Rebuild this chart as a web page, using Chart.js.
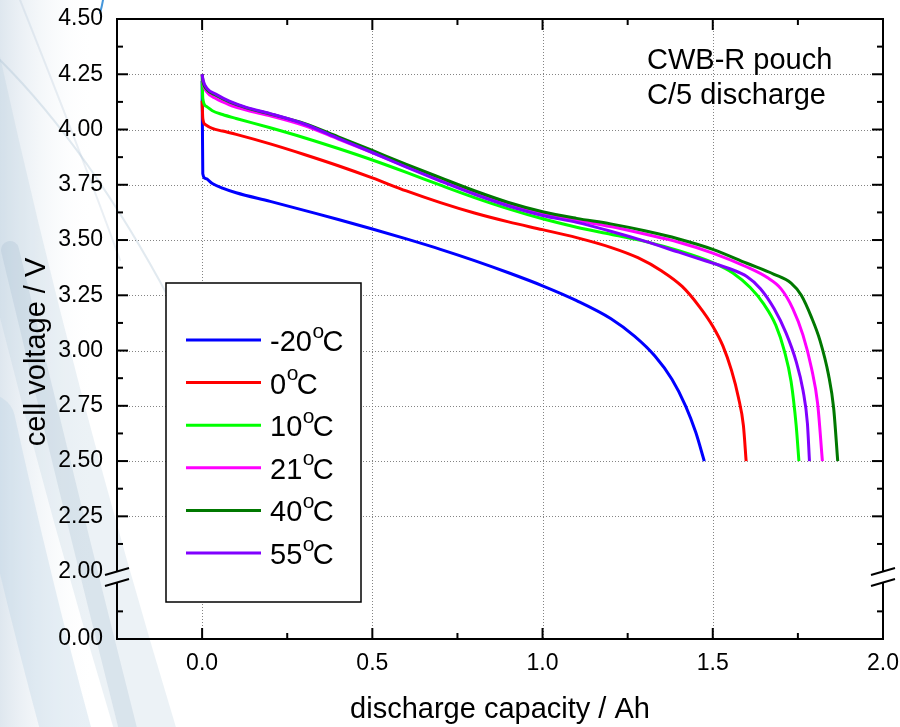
<!DOCTYPE html>
<html>
<head>
<meta charset="utf-8">
<script src="https://cdn.jsdelivr.net/npm/chart.js@4.4.1/dist/chart.umd.min.js"></script>
<style>
  html, body { margin: 0; padding: 0; background: #fff; }
  canvas { display: block; }
</style>
</head>
<body>
<canvas id="discharge" width="900" height="727"></canvas>
<script>
const FONT = '"Liberation Sans", Arial, Helvetica, sans-serif';

// Cell temperatures (legend order) and their trace colours
const temperatures = ['-20', '0', '10', '21', '40', '55'];
const traceColors = ['#0000ff', '#ff0000', '#00ff00', '#ff00ff', '#007800', '#8000ff'];

// Discharge capacity (Ah) and cell voltage (V) for each temperature
const capacityM20 = [0, 0.002, 0.01, 0.03, 0.06, 0.1, 0.2, 0.3, 0.4, 0.5, 0.6, 0.7, 0.8, 0.9, 1.0, 1.1, 1.2, 1.27, 1.33, 1.38, 1.42, 1.45, 1.475];
const voltageM20  = [4.22, 3.80, 3.778, 3.756, 3.735, 3.714, 3.675, 3.634, 3.593, 3.550, 3.505, 3.458, 3.407, 3.352, 3.293, 3.226, 3.145, 3.065, 2.975, 2.87, 2.75, 2.63, 2.50];

const capacity0 = [0, 0.002, 0.01, 0.03, 0.06, 0.1, 0.2, 0.3, 0.4, 0.5, 0.6, 0.7, 0.8, 0.9, 1.0, 1.1, 1.2, 1.28, 1.35, 1.41, 1.46, 1.5, 1.53, 1.555, 1.575, 1.59, 1.598];
const voltage0  = [4.13, 4.05, 4.022, 4.005, 3.993, 3.978, 3.935, 3.887, 3.836, 3.781, 3.722, 3.669, 3.622, 3.582, 3.547, 3.511, 3.467, 3.42, 3.36, 3.29, 3.20, 3.11, 3.02, 2.91, 2.79, 2.66, 2.50];

const capacity10 = [0, 0.002, 0.012, 0.03, 0.06, 0.1, 0.2, 0.3, 0.4, 0.5, 0.6, 0.7, 0.8, 0.9, 1.0, 1.1, 1.2, 1.3, 1.4, 1.5, 1.56, 1.61, 1.65, 1.685, 1.71, 1.73, 1.745, 1.753];
const voltage10  = [4.24, 4.14, 4.105, 4.085, 4.068, 4.05, 4.008, 3.963, 3.914, 3.862, 3.806, 3.748, 3.692, 3.641, 3.596, 3.558, 3.526, 3.494, 3.452, 3.398, 3.35, 3.285, 3.21, 3.115, 3.0, 2.86, 2.66, 2.50];

const capacity21 = [0, 0.003, 0.015, 0.04, 0.08, 0.13, 0.2, 0.3, 0.4, 0.5, 0.6, 0.7, 0.8, 0.9, 1.0, 1.1, 1.2, 1.3, 1.4, 1.5, 1.6, 1.66, 1.7, 1.735, 1.765, 1.79, 1.808, 1.822];
const voltage21  = [4.25, 4.21, 4.168, 4.14, 4.112, 4.088, 4.062, 4.018, 3.957, 3.895, 3.832, 3.77, 3.712, 3.661, 3.619, 3.589, 3.561, 3.527, 3.49, 3.441, 3.378, 3.33, 3.28, 3.19, 3.07, 2.92, 2.76, 2.50];

const capacity40 = [0, 0.003, 0.015, 0.04, 0.08, 0.13, 0.2, 0.3, 0.4, 0.5, 0.6, 0.7, 0.8, 0.9, 1.0, 1.1, 1.2, 1.3, 1.4, 1.5, 1.6, 1.68, 1.73, 1.76, 1.79, 1.815, 1.84, 1.855, 1.867];
const voltage40  = [4.25, 4.215, 4.18, 4.155, 4.125, 4.098, 4.07, 4.028, 3.967, 3.905, 3.842, 3.782, 3.723, 3.67, 3.628, 3.598, 3.573, 3.542, 3.505, 3.458, 3.395, 3.345, 3.305, 3.25, 3.15, 3.045, 2.89, 2.74, 2.50];

const capacity55 = [0, 0.003, 0.015, 0.04, 0.08, 0.13, 0.2, 0.3, 0.4, 0.5, 0.6, 0.7, 0.8, 0.9, 1.0, 1.1, 1.2, 1.3, 1.4, 1.48, 1.55, 1.6, 1.64, 1.68, 1.715, 1.745, 1.765, 1.778, 1.784];
const voltage55  = [4.25, 4.222, 4.185, 4.16, 4.128, 4.10, 4.072, 4.025, 3.96, 3.896, 3.83, 3.767, 3.707, 3.654, 3.611, 3.58, 3.54, 3.495, 3.445, 3.405, 3.37, 3.335, 3.28, 3.19, 3.08, 2.95, 2.82, 2.67, 2.50];

const seriesCapacity = [capacityM20, capacity0, capacity10, capacity21, capacity40, capacity55];
const seriesVoltage  = [voltageM20, voltage0, voltage10, voltage21, voltage40, voltage55];

// Axis ticks
const capacityTicks = [0, 0.5, 1.0, 1.5, 2.0];
const voltageTicks  = [2.00, 2.25, 2.50, 2.75, 3.00, 3.25, 3.50, 3.75, 4.00, 4.25, 4.50];
const voltageFloorTick = 0.00;   // value shown below the axis break
const BREAK_SPAN = 0.305;        // axis length (in V) given to the segment below the break

const noteLines = ['CWB-R pouch', 'C/5 discharge'];
const xTitle = 'discharge capacity / Ah';
const yTitle = 'cell voltage / V';

const datasets = temperatures.map((t, i) => ({
  label: t + '°C',
  data: seriesCapacity[i].map((c, j) => ({ x: c, y: seriesVoltage[i][j] })),
  borderColor: traceColors[i],
  backgroundColor: traceColors[i],
  borderWidth: 3,
  pointRadius: 0,
  showLine: true,
  fill: false,
  cubicInterpolationMode: 'monotone',
  order: temperatures.length - i
}));

function line(ctx, x0, y0, x1, y1) {
  ctx.beginPath();
  ctx.moveTo(x0, y0);
  ctx.lineTo(x1, y1);
  ctx.stroke();
}

// Soft slide backdrop on the left side
function drawBackdrop(ctx, w, h) {
  ctx.save();
  ctx.fillStyle = '#fff';
  ctx.fillRect(0, 0, w, h);
  const g = ctx.createLinearGradient(0, 0, 95, 0);
  g.addColorStop(0, 'rgba(205,218,230,0.65)');
  g.addColorStop(1, 'rgba(255,255,255,0)');
  ctx.fillStyle = g;
  ctx.fillRect(0, 0, 95, h);
  ctx.lineCap = 'round';
  const sweep = (x0, y0, cx, cy, x1, y1, width, color) => {
    ctx.beginPath();
    ctx.moveTo(x0, y0);
    ctx.quadraticCurveTo(cx, cy, x1, y1);
    ctx.lineWidth = width;
    ctx.strokeStyle = color;
    ctx.stroke();
  };
  sweep(-30, 60, 45, 400, 150, 745, 60, 'rgba(180,202,220,0.25)');
  sweep(10, 250, 70, 500, 132, 745, 18, 'rgba(150,178,200,0.22)');
  sweep(-10, 420, 30, 600, 70, 745, 50, 'rgba(180,205,225,0.30)');
  sweep(0, 60, 90, 150, 170, 300, 2, 'rgba(160,185,205,0.30)');
  sweep(20, 0, 80, 150, 120, 260, 2, 'rgba(170,190,210,0.25)');
  sweep(103, 0, 102, 6, 100, 13, 2, 'rgba(50,140,215,0.9)');
  ctx.restore();
}

const framePlugin = {
  id: 'frame',
  beforeDraw(chart) {
    drawBackdrop(chart.ctx, chart.width, chart.height);
  },
  beforeDatasetsDraw(chart) {
    const { ctx, chartArea: a, scales: { x, y } } = chart;
    ctx.save();
    ctx.strokeStyle = 'rgba(110,110,110,0.85)';
    ctx.lineWidth = 1;
    ctx.setLineDash([1, 2]);
    capacityTicks.filter(v => v > x.min && v < x.max).forEach(v => {
      const px = Math.round(x.getPixelForValue(v)) + 0.5;
      line(ctx, px, a.top, px, a.bottom);
    });
    voltageTicks.filter(v => v > voltageTicks[0] && v < y.max).forEach(v => {
      const py = Math.round(y.getPixelForValue(v)) + 0.5;
      line(ctx, a.left, py, a.right, py);
    });
    ctx.restore();
  },
  afterDatasetsDraw(chart) {
    const { ctx, chartArea: a, scales: { x, y } } = chart;
    ctx.save();
    ctx.setLineDash([]);
    ctx.strokeStyle = '#000';
    ctx.lineWidth = 2;
    ctx.lineCap = 'butt';

    // Frame with the axis break on both vertical sides
    const brk = y.getPixelForValue(voltageTicks[0]);
    const brkLow = brk + 11;
    line(ctx, a.left - 1, a.top, a.right + 1, a.top);
    line(ctx, a.left - 1, a.bottom, a.right + 1, a.bottom);
    [a.left, a.right].forEach(px => {
      line(ctx, px, a.top, px, brk);
      line(ctx, px, brkLow, px, a.bottom + 1);
      [brk, brkLow].forEach(py => line(ctx, px - 12, py + 3.5, px + 12, py - 3.5));
    });

    // Inward tick marks
    const MAJOR = 11, MINOR = 6;
    const yStep = voltageTicks[1] - voltageTicks[0];
    const yMajor = voltageTicks.filter(v => v > voltageTicks[0] && v < y.max);
    const yMinor = voltageTicks.slice(0, -1).map(v => v + yStep / 2).concat([y.min + yStep / 2]);
    const xMajor = capacityTicks.filter(v => v > x.min && v < x.max);
    const xMinor = capacityTicks.slice(0, -1).map((v, i) => (v + capacityTicks[i + 1]) / 2);
    const yTick = (v, len) => {
      const py = y.getPixelForValue(v);
      line(ctx, a.left, py, a.left + len, py);
      line(ctx, a.right, py, a.right - len, py);
    };
    const xTick = (v, len) => {
      const px = x.getPixelForValue(v);
      line(ctx, px, a.bottom, px, a.bottom - len);
      line(ctx, px, a.top, px, a.top + len);
    };
    yMajor.forEach(v => yTick(v, MAJOR));
    yMinor.forEach(v => yTick(v, MINOR));
    xMajor.forEach(v => xTick(v, MAJOR));
    xMinor.forEach(v => xTick(v, MINOR));

    // Legend box
    const box = { x: 166, y: 283, w: 195, h: 319 };
    ctx.fillStyle = '#fff';
    ctx.fillRect(box.x, box.y, box.w, box.h);
    ctx.lineWidth = 1.5;
    ctx.strokeRect(box.x, box.y, box.w, box.h);
    const rowTop = 340, rowStep = 42.6;
    chart.data.datasets.forEach((ds, i) => {
      const ry = rowTop + i * rowStep;
      ctx.strokeStyle = ds.borderColor;
      ctx.lineWidth = 3;
      line(ctx, 186, ry, 261, ry);
      const [num, unit] = ds.label.split('°');
      const base = ry + 11;
      ctx.fillStyle = '#000';
      ctx.textAlign = 'left';
      ctx.textBaseline = 'alphabetic';
      ctx.font = '29px ' + FONT;
      ctx.fillText(num, 270, base);
      const w = ctx.measureText(num).width;
      ctx.font = '21px ' + FONT;
      ctx.fillText('o', 270 + w + 0.5, base - 13.5);
      ctx.font = '29px ' + FONT;
      ctx.fillText(unit, 270 + w + 10.5, base);
    });

    // Note in the upper right
    ctx.fillStyle = '#000';
    ctx.font = '29px ' + FONT;
    ctx.textAlign = 'left';
    ctx.textBaseline = 'alphabetic';
    noteLines.forEach((s, i) => ctx.fillText(s, 647, 69 + i * 35));

    // Vertical axis title
    ctx.translate(36.5, 352);
    ctx.rotate(-Math.PI / 2);
    ctx.textAlign = 'center';
    ctx.textBaseline = 'middle';
    ctx.fillText(yTitle, 0, 0);
    ctx.restore();
  }
};

new Chart(document.getElementById('discharge'), {
  type: 'scatter',
  data: { datasets },
  options: {
    responsive: false,
    animation: false,
    devicePixelRatio: 1,
    layout: { padding: { top: 19, right: 17, bottom: 0, left: 0 } },
    plugins: { legend: { display: false }, tooltip: { enabled: false } },
    scales: {
      x: {
        type: 'linear',
        min: -0.25,
        max: 2.0,
        afterBuildTicks: s => { s.ticks = capacityTicks.map(v => ({ value: v })); },
        afterFit: s => { s.height = 88; s.paddingLeft = 0; s.paddingRight = 0; },
        grid: { display: false, drawTicks: false },
        border: { display: false },
        ticks: {
          autoSkip: false, maxRotation: 0, padding: 11, color: '#000',
          font: { family: FONT, size: 23 },
          callback: v => Number(v).toFixed(1)
        },
        title: {
          display: true, text: xTitle, color: '#000',
          font: { family: FONT, size: 29 }, padding: { top: 0, bottom: 0 }
        }
      },
      y: {
        type: 'linear',
        min: voltageTicks[0] - BREAK_SPAN,
        max: voltageTicks[voltageTicks.length - 1],
        afterBuildTicks: s => {
          s.ticks = [{ value: s.min }].concat(voltageTicks.map(v => ({ value: v })));
        },
        afterFit: s => { s.width = 117; s.paddingTop = 0; s.paddingBottom = 0; },
        grid: { display: false, drawTicks: false },
        border: { display: false },
        ticks: {
          autoSkip: false, padding: 14, color: '#000',
          font: { family: FONT, size: 23 },
          callback: v => (v < voltageTicks[0] ? voltageFloorTick : v).toFixed(2)
        }
      }
    }
  },
  plugins: [framePlugin]
});
</script>
</body>
</html>
